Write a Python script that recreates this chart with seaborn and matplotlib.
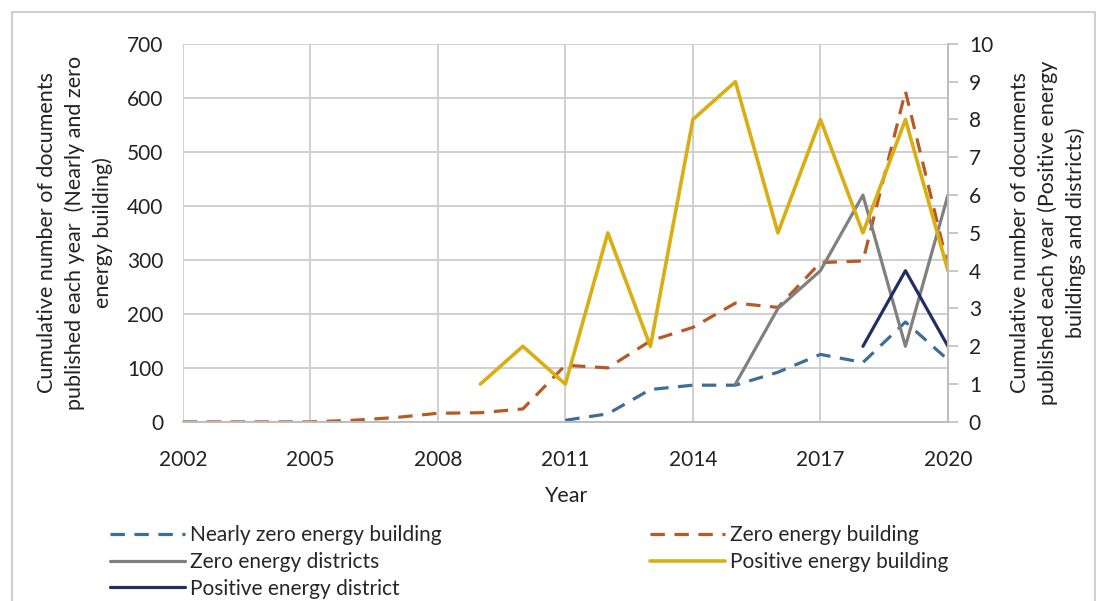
import pandas as pd
import matplotlib.pyplot as plt
import seaborn as sns
from matplotlib.patches import Rectangle

years = list(range(2002, 2021))

# left axis series (2002-2020)
nzeb_years = list(range(2011, 2021))
nzeb = [3, 15, 60, 68, 68, 92, 125, 110, 185, 115]
zeb = [0, 0, 0, 0, 3, 8, 16, 17, 24, 105, 100, 150, 175, 220, 212, 295, 298, 612, 288]

# right axis series
zed_years = list(range(2015, 2021))
zed = [1, 3, 4, 6, 2, 6]
peb_years = list(range(2009, 2021))
peb = [1, 2, 1, 5, 2, 8, 9, 5, 8, 5, 8, 4]
ped_years = [2018, 2019, 2020]
ped = [2, 4, 2]

sns.set_theme(style="white")
plt.rcParams['font.family'] = ['Lato', 'DejaVu Sans']

fig = plt.figure(figsize=(11.01, 6.01), dpi=100)
ax = fig.add_axes([0.166, 0.298, 0.695, 0.629])
ax2 = ax.twinx()

c_nzeb = '#3E6E96'
c_zeb = '#B55A24'
c_zed = '#808080'
c_peb = '#D9AE12'
c_ped = '#1F2F66'

sns.lineplot(x=nzeb_years, y=nzeb, ax=ax, color=c_nzeb, lw=2.3,
             linestyle=(0, (4.5, 3)), label='Nearly zero energy building', legend=False)
sns.lineplot(x=years, y=zeb, ax=ax, color=c_zeb, lw=2.3,
             linestyle=(0, (4.5, 3)), label='Zero energy building', legend=False)
sns.lineplot(x=zed_years, y=zed, ax=ax2, color=c_zed, lw=2.3,
             label='Zero energy districts', legend=False)
sns.lineplot(x=peb_years, y=peb, ax=ax2, color=c_peb, lw=2.6,
             label='Positive energy building', legend=False)
sns.lineplot(x=ped_years, y=ped, ax=ax2, color=c_ped, lw=2.3,
             label='Positive energy district', legend=False)

ax.set_xlim(2002, 2020)
ax.set_ylim(0, 700)
ax.set_yticks(range(0, 701, 100))
ax.set_xticks(range(2002, 2021, 3))
ax2.set_ylim(0, 10)
ax2.set_yticks(range(0, 11))

ax.grid(True, color='#cfcfcf', lw=1.4)
for s in ['top', 'left', 'bottom', 'right']:
    ax.spines[s].set_visible(False)
    ax2.spines[s].set_visible(False)
ax2.spines['right'].set_visible(True)
ax2.spines['right'].set_color('#bdbdbd')
ax2.spines['right'].set_linewidth(1.4)
ax.spines['bottom'].set_visible(True)
ax.spines['bottom'].set_color('#bdbdbd')
ax.spines['bottom'].set_linewidth(1.4)

ax.tick_params(axis='y', labelsize=15, colors='#222222', length=0, pad=14)
ax.tick_params(axis='x', labelsize=15, colors='#222222', length=0, pad=20)
ax2.tick_params(axis='y', labelsize=15, colors='#222222', length=7, width=1.2,
                direction='out', pad=8)
ax2.tick_params(axis='y', color='#bdbdbd')

ax.set_xlabel('Year', fontsize=15.5, color='#222222', labelpad=12)
ax.set_ylabel('Cumulative number of documents\npublished each year  (Nearly and zero\nenergy building)',
              fontsize=15.5, color='#222222', linespacing=1.45, labelpad=10)
ax2.set_ylabel('Cumulative number of documents\npublished each year (Positive energy\nbuildings and districts)',
               fontsize=15.5, color='#222222', linespacing=1.45, labelpad=12)

h1, l1 = ax.get_legend_handles_labels()
h2, l2 = ax2.get_legend_handles_labels()
handles = [h1[0], h2[0], h2[2], h1[1], h2[1]]
labels = [l1[0], l2[0], l2[2], l1[1], l2[1]]
fig.legend(handles, labels, ncol=2, loc='upper left', bbox_to_anchor=(0.092, 0.14),
           frameon=False, fontsize=15, handlelength=3.6, handletextpad=0.25,
           columnspacing=10.0, labelspacing=0.32, borderaxespad=0)

fig.patches.append(Rectangle((0.011, -0.05), 0.984, 1.03, transform=fig.transFigure,
                             fill=False, edgecolor='#d0d0d0', lw=1.5))

fig.savefig('out.png', dpi=100)
